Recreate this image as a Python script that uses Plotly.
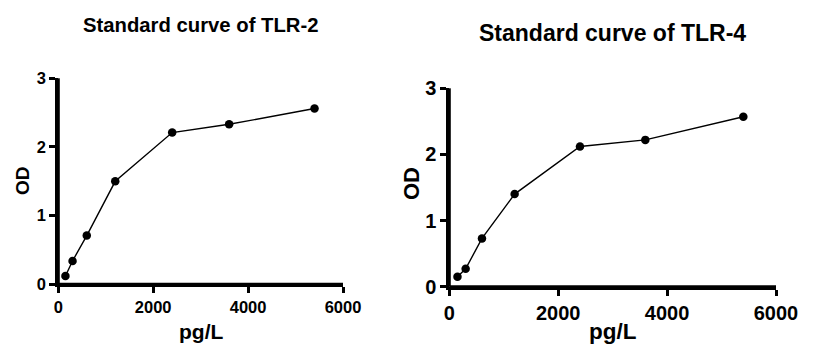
import plotly.graph_objects as go

conc = [150, 300, 600, 1200, 2400, 3600, 5400]
od_tlr2 = [0.12, 0.34, 0.71, 1.50, 2.21, 2.33, 2.56]
od_tlr4 = [0.15, 0.27, 0.73, 1.40, 2.12, 2.22, 2.57]
titles = ["Standard curve of TLR-2", "Standard curve of TLR-4"]
x_ticks = [0, 2000, 4000, 6000]
y_ticks = [0, 1, 2, 3]

W, H = 822, 359
FONT = "Liberation Sans, Arial, sans-serif"

fig = go.Figure()

panels = [
    dict(x0=58.3, x1=343.0, ytop=78.3, ybot=284.3, y=od_tlr2, tick=16.5, od=19, pg=21, tit=20.3,
         title_y=25, od_x=22, od_y=181, pg_y=331),
    dict(x0=449.3, x1=776.0, ytop=88.3, ybot=286.7, y=od_tlr4, tick=20, od=22, pg=22.5, tit=23,
         title_y=33, od_x=411, od_y=184, pg_y=331),
]

for i, p in enumerate(panels):
    n = "" if i == 0 else str(i + 1)
    fig.add_trace(go.Scatter(
        x=conc, y=p["y"], mode="lines+markers",
        line=dict(color="black", width=1.4),
        marker=dict(color="black", size=8.5),
        xaxis="x" + n, yaxis="y" + n, showlegend=False, cliponaxis=False,
    ))
    common = dict(
        showline=True, linecolor="black", linewidth=3, ticks="outside",
        ticklen=6, tickwidth=3, tickcolor="black", showgrid=False, zeroline=False,
        tickfont=dict(family=FONT, size=p["tick"], color="black", weight="bold"),
        fixedrange=True, automargin=False,
    )
    ax = dict(domain=[p["x0"] / W, p["x1"] / W], range=[0, 6000], tickvals=x_ticks,
              anchor="y" + n, **common)
    ay = dict(domain=[1 - p["ybot"] / H, 1 - p["ytop"] / H], range=[0, 3], tickvals=y_ticks,
              anchor="x" + n, **common)
    fig.update_layout(**{"xaxis" + n: ax, "yaxis" + n: ay})
    # explicit axis lines
    xd, yd = "x" + n + " domain", "y" + n + " domain"
    fig.add_shape(type="line", xref=xd, yref=yd, x0=0, x1=1, y0=0, y1=0,
                  line=dict(color="black", width=3), layer="above")
    fig.add_shape(type="line", xref=xd, yref=yd, x0=0, x1=0, y0=0, y1=1,
                  line=dict(color="black", width=3), layer="above")
    cx = (p["x0"] + p["x1"]) / 2
    fig.add_annotation(text=titles[i], x=cx / W, y=1 - p["title_y"] / H, xref="paper", yref="paper",
                       showarrow=False, xanchor="center", yanchor="middle",
                       font=dict(family=FONT, size=p["tit"], color="black", weight="bold"))
    fig.add_annotation(text="OD", x=p["od_x"] / W, y=1 - p["od_y"] / H, xref="paper", yref="paper",
                       showarrow=False, xanchor="center", yanchor="middle", textangle=-90,
                       font=dict(family=FONT, size=p["od"], color="black", weight="bold"))
    fig.add_annotation(text="pg/L", x=cx / W, y=1 - p["pg_y"] / H, xref="paper", yref="paper",
                       showarrow=False, xanchor="center", yanchor="middle",
                       font=dict(family=FONT, size=p["pg"], color="black", weight="bold"))

fig.update_layout(
    template="none",
    width=W, height=H, margin=dict(l=0, r=0, t=0, b=0, pad=0),
    paper_bgcolor="white", plot_bgcolor="white", showlegend=False,
)

fig.write_html("out.html", config={"displayModeBar": False},
               post_script="document.body.style.margin='0';document.body.style.padding='0';")
